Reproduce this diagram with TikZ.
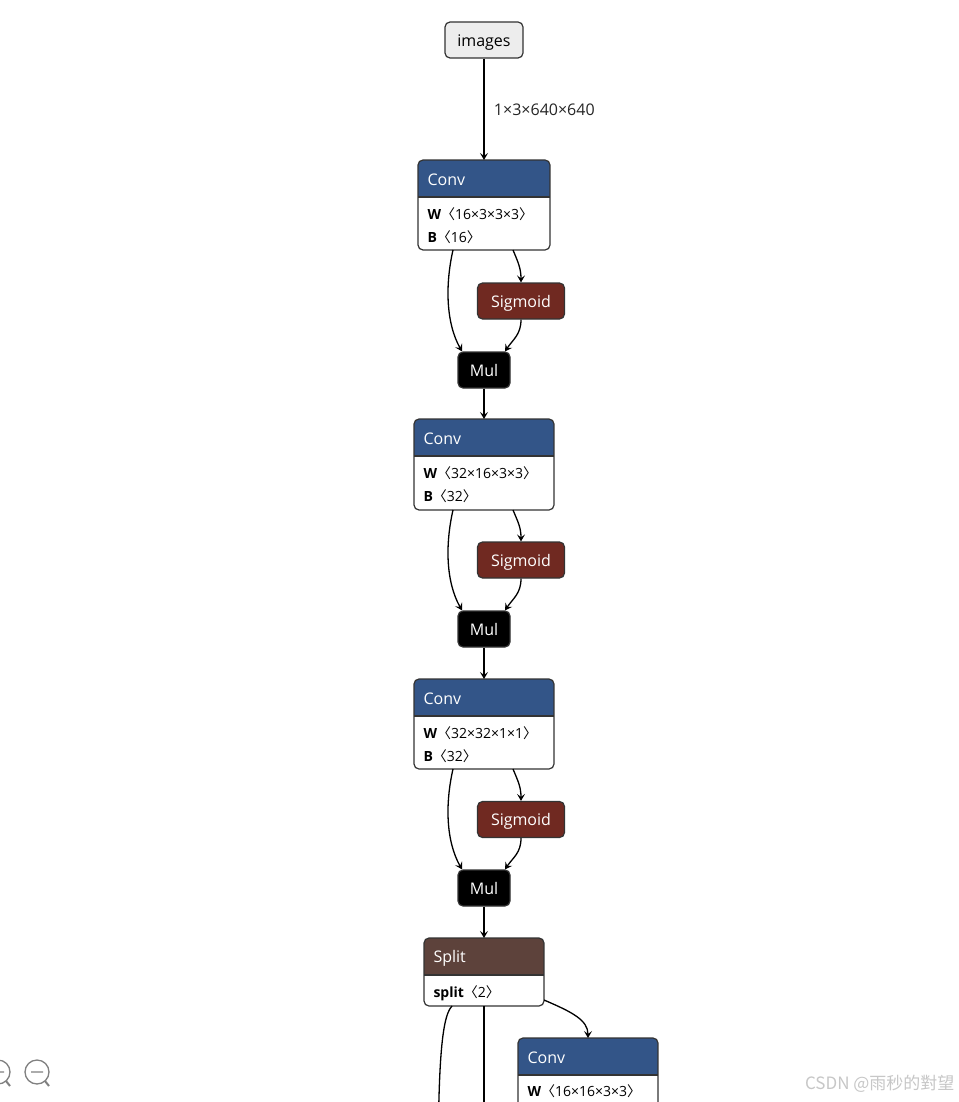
\documentclass[tikz,border=0pt]{standalone}
\usepackage{fontspec}
\setmainfont{Open Sans}
\newfontfamily\cjk{Noto Sans CJK SC}
\usetikzlibrary{arrows.meta}

\definecolor{convblue}{RGB}{51,85,136}
\definecolor{sigred}{RGB}{112,41,33}
\definecolor{splitbrown}{RGB}{93,66,59}
\definecolor{boxgray}{RGB}{51,51,51}

% dimensions in angle brackets
\newcommand{\dimsof}[1]{{\cjk 〈}#1{\cjk 〉}}
% two-part box: name, centre x, top y, width, height, header colour
\newcommand{\layerbox}[6]{%
  \node[layer, minimum width=#4, minimum height=#5, anchor=north] (#1) at (#2,#3) {};
  \begin{scope}
    \clip[rounded corners=5] (#1.north west) rectangle (#1.south east);
    \fill[#6] (#1.north west) rectangle ([yshift=-37]#1.north east);
  \end{scope}
  \draw[boxline] ([yshift=-37]#1.north west) -- ([yshift=-37]#1.north east);
  \draw[boxline, rounded corners=5] (#1.north west) rectangle (#1.south east);
}

\tikzset{
  layer/.style={fill=white, inner sep=0, outer sep=0},
  boxline/.style={draw=boxgray, line width=1.2},
  title/.style={text=white, font=\fontsize{16}{19}\selectfont},
  attr/.style={font=\fontsize{14}{17}\selectfont},
  op/.style={rounded corners=5, draw=boxgray, line width=1.2, text=white,
    font=\fontsize{16}{19}\selectfont, minimum height=36, inner sep=0,
    text height=12.5, text depth=0},
  edge/.style={draw, line width=1.3, -{Stealth[length=7,width=8,inset=3]}},
}

\begin{document}
\begin{tikzpicture}[x=1pt,y=-1pt]
    \useasboundingbox (0,0) rectangle (958,1102);
    \fill[white] (0,0) rectangle (958,1102);
    \clip (0,0) rectangle (958,1102);

    % --- input
    \node[op, fill=black!7, text=black, minimum width=78] (images) at (484,40) {images};

    % --- first Conv / Sigmoid / Mul
    \layerbox{conv1}{484}{160}{132}{90}{convblue}
    \node[title, anchor=west] (conv1t) at ([xshift=6,yshift=-20]conv1.north west) {Conv};
    \node[attr, anchor=west] (conv1w) at ([xshift=6,yshift=-54]conv1.north west) {\textbf{W}\dimsof{16×3×3×3}};
    \node[attr, anchor=west] (conv1b) at ([xshift=6,yshift=-77]conv1.north west) {\textbf{B}\dimsof{16}};
    \node[op, fill=sigred, minimum width=87] (sig1) at (521,301) {Sigmoid};
    \node[op, fill=black, minimum width=52] (mul1) at (484,370) {Mul};

    % --- second Conv / Sigmoid / Mul
    \layerbox{conv2}{484}{419}{140}{91}{convblue}
    \node[title, anchor=west] (conv2t) at ([xshift=6,yshift=-20]conv2.north west) {Conv};
    \node[attr, anchor=west] (conv2w) at ([xshift=6,yshift=-54]conv2.north west) {\textbf{W}\dimsof{32×16×3×3}};
    \node[attr, anchor=west] (conv2b) at ([xshift=6,yshift=-77]conv2.north west) {\textbf{B}\dimsof{32}};
    \node[op, fill=sigred, minimum width=87] (sig2) at (521,560) {Sigmoid};
    \node[op, fill=black, minimum width=52] (mul2) at (484,629) {Mul};

    % --- third Conv / Sigmoid / Mul
    \layerbox{conv3}{484}{679}{140}{90}{convblue}
    \node[title, anchor=west] (conv3t) at ([xshift=6,yshift=-20]conv3.north west) {Conv};
    \node[attr, anchor=west] (conv3w) at ([xshift=6,yshift=-54]conv3.north west) {\textbf{W}\dimsof{32×32×1×1}};
    \node[attr, anchor=west] (conv3b) at ([xshift=6,yshift=-77]conv3.north west) {\textbf{B}\dimsof{32}};
    \node[op, fill=sigred, minimum width=87] (sig3) at (521,819.5) {Sigmoid};
    \node[op, fill=black, minimum width=52] (mul3) at (484,888) {Mul};

    % --- split and the next Conv
    \layerbox{split}{484}{938}{120}{68}{splitbrown}
    \node[title, anchor=west] (splitt) at ([xshift=6,yshift=-20]split.north west) {Split};
    \node[attr, anchor=west] (splita) at ([xshift=6,yshift=-55]split.north west) {\textbf{split}\dimsof{2}};
    \layerbox{conv4}{588}{1038}{140}{90}{convblue}
    \node[title, anchor=west] (conv4t) at ([xshift=6,yshift=-20]conv4.north west) {Conv};
    \node[attr, anchor=west] (conv4w) at ([xshift=6,yshift=-53]conv4.north west) {\textbf{W}\dimsof{16×16×3×3}};
    \coordinate (down1) at (438,1200);
    \coordinate (down2) at (484,1200);

    % --- connectors
    \draw[edge] (images.south) -- (conv1.north)
      node[pos=0.5, anchor=west, xshift=6, font=\fontsize{16}{19}\selectfont, text=black!85] {1×3×640×640};
    \draw[edge] ([xshift=-31]conv1.south) .. controls +(-8,35) and +(-16,-28) .. ([xshift=-22]mul1.north);
    \draw[edge] ([xshift=29]conv1.south) .. controls +(5,12) and +(0,-14) .. (sig1.north);
    \draw[edge] (sig1.south) .. controls +(0,15) and +(8,-12) .. ([xshift=21]mul1.north);
    \draw[edge] (mul1.south) -- (conv2.north);
    \draw[edge] ([xshift=-31]conv2.south) .. controls +(-8,35) and +(-16,-28) .. ([xshift=-22]mul2.north);
    \draw[edge] ([xshift=29]conv2.south) .. controls +(5,12) and +(0,-14) .. (sig2.north);
    \draw[edge] (sig2.south) .. controls +(0,15) and +(8,-12) .. ([xshift=21]mul2.north);
    \draw[edge] (mul2.south) -- (conv3.north);
    \draw[edge] ([xshift=-31]conv3.south) .. controls +(-8,35) and +(-16,-28) .. ([xshift=-22]mul3.north);
    \draw[edge] ([xshift=29]conv3.south) .. controls +(5,12) and +(0,-14) .. (sig3.north);
    \draw[edge] (sig3.south) .. controls +(0,15) and +(8,-12) .. ([xshift=21]mul3.north);
    \draw[edge] (mul3.south) -- (split.north);
    \draw[edge] ([xshift=-32]split.south) .. controls +(-12,12) and +(0,-120) .. (down1);
    \draw[edge] (split.south) -- (down2);
    \draw[edge] ([yshift=6]split.south east) .. controls +(28,12) and +(0,-18) .. (conv4.north);

    % --- zoom buttons and watermark
    \draw[gray, line width=1.3] (-2,1072) circle (12) (-8,1072) -- (4,1072) (-2,1066) -- (-2,1078);
    \draw[gray, line width=2] (6,1081) -- (10,1086);
    \draw[gray, line width=1.3] (37,1072) circle (12) (31,1072) -- (43,1072);
    \draw[gray, line width=2] (45,1081) -- (49,1086);
    \node[anchor=east, text=black!22, font=\cjk\fontsize{17}{20}\selectfont] (mark) at (958,1084) {CSDN @雨秒的對望};
\end{tikzpicture}
\end{document}
